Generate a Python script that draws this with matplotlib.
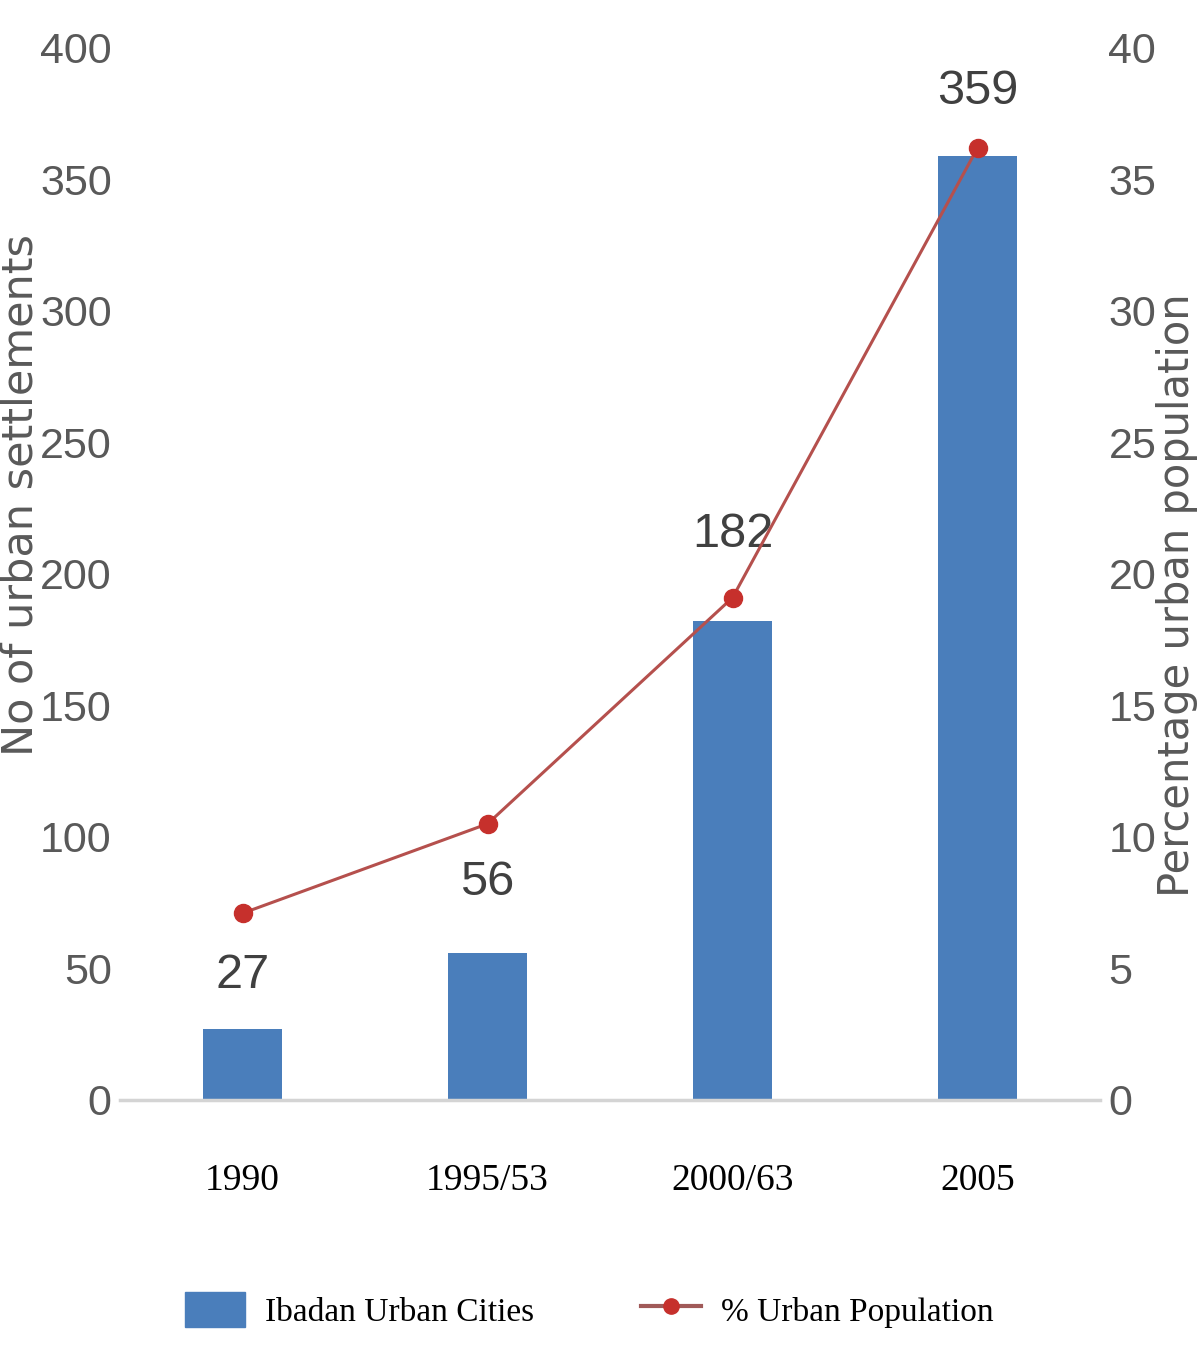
import numpy as np
import matplotlib.pyplot as plt
from matplotlib.patches import Patch
from matplotlib.lines import Line2D

# chart data
years = ["1990", "1995/53", "2000/63", "2005"]
urban_cities = [27, 56, 182, 359]
urban_pop_pct = [7.1, 10.5, 19.1, 36.2]

# label offsets above each bar (points)
label_pad = [22, 34, 46, 30]

bar_blue = "#4a7ebb"
line_red = "#b5504d"
dot_red = "#c6302c"
grey_txt = "#595959"

num_font = ["Liberation Sans", "DejaVu Sans"]
serif_font = ["Liberation Serif", "DejaVu Serif"]
label_font = ["DejaVu Sans"]

fig = plt.figure(figsize=(11.97, 13.48), dpi=100)
ax = fig.add_axes([0.1003, 0.184, 0.8187, 0.7804])

x = np.arange(len(years))
ax.bar(x, urban_cities, width=0.32, color=bar_blue, zorder=2)
ax.set_xlim(-0.5, 3.5)
ax.set_ylim(0, 400)
ax.set_yticks(range(0, 401, 50))
ax.set_xticks(x)
ax.set_xticklabels(years, family=serif_font, fontsize=27, color="black")
ax.tick_params(axis="x", length=0, pad=46)
ax.tick_params(axis="y", length=0, pad=6, labelsize=31, labelcolor=grey_txt)
for t in ax.get_yticklabels():
    t.set_family(num_font)

for s in ["top", "left", "right"]:
    ax.spines[s].set_visible(False)
ax.spines["bottom"].set_color("#d4d4d4")
ax.spines["bottom"].set_linewidth(2.5)

# value labels over the bars
for xi, v, p in zip(x, urban_cities, label_pad):
    ax.annotate(str(v), (xi, v), xytext=(0, p), textcoords="offset points",
                ha="center", va="bottom", fontsize=35, color="#404040",
                family=num_font)

# percentage line on secondary axis
ax2 = ax.twinx()
ax2.set_ylim(0, 40)
ax2.set_yticks(range(0, 41, 5))
ax2.plot(x, urban_pop_pct, color=line_red, lw=2.2, marker="o", ms=13,
         mfc=dot_red, mec=dot_red, zorder=3)
ax2.tick_params(axis="y", length=0, pad=6, labelsize=31, labelcolor=grey_txt)
for t in ax2.get_yticklabels():
    t.set_family(num_font)
for s in ax2.spines.values():
    s.set_visible(False)

fig.text(21 / 1197, 1 - 495 / 1348, "No of urban settlements", rotation=90,
         ha="center", va="center", fontsize=31, color=grey_txt,
         family=label_font)
fig.text(1177 / 1197, 1 - 595 / 1348, "Percentage urban population",
         rotation=90, ha="center", va="center", fontsize=30, color=grey_txt,
         family=label_font)

handles = [
    Patch(facecolor=bar_blue, edgecolor=bar_blue),
    Line2D([], [], color="#a05a58", lw=3, marker="o", ms=11,
           mfc=dot_red, mec=dot_red),
]
fig.legend(handles, ["Ibadan Urban Cities", "% Urban Population"],
           loc="center", bbox_to_anchor=(589 / 1197, 1 - 1310 / 1348), ncol=2,
           frameon=False, prop={"family": serif_font, "size": 24},
           handlelength=1.8, handleheight=1.2, handletextpad=0.6,
           columnspacing=3.2)

fig.savefig("out.png", dpi=100)
